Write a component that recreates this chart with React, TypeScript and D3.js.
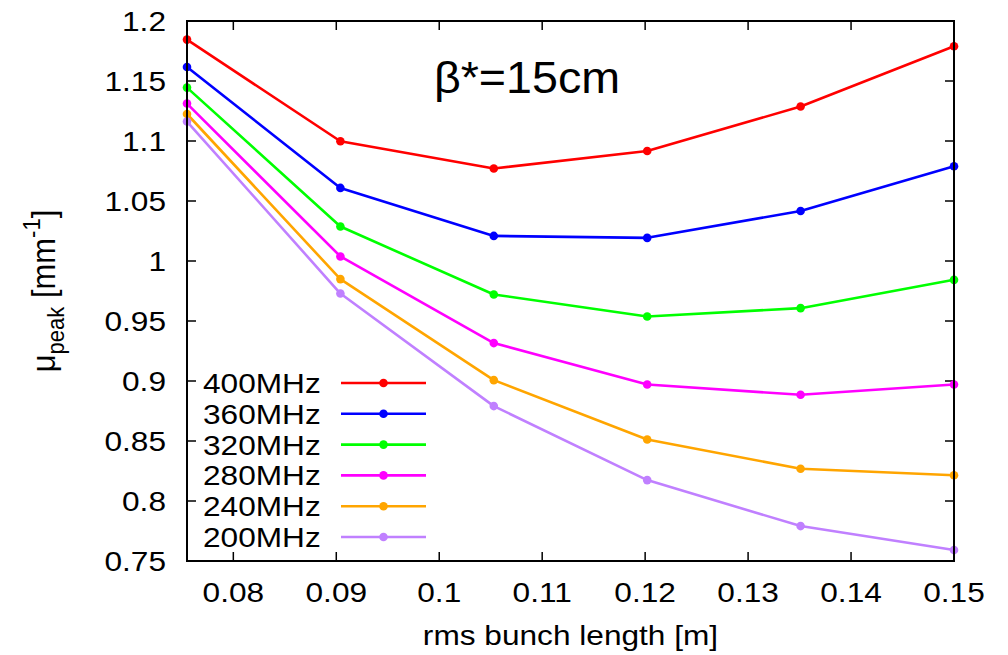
import React from "react";
import * as d3 from "d3";

const xValues = [0.0755, 0.0904, 0.1053, 0.1202, 0.1351, 0.15];
const seriesNames = ["400MHz", "360MHz", "320MHz", "280MHz", "240MHz", "200MHz"];
const seriesColors = ["#ff0000", "#0000ff", "#00ff00", "#ff00ff", "#ffa500", "#c080ff"];
const mhz400 = [1.1845, 1.0998, 1.0771, 1.0917, 1.1287, 1.179];
const mhz360 = [1.1617, 1.0609, 1.0209, 1.0193, 1.0417, 1.079];
const mhz320 = [1.1445, 1.0287, 0.9721, 0.9538, 0.9607, 0.9843];
const mhz280 = [1.1312, 1.0038, 0.9316, 0.8971, 0.8885, 0.8971];
const mhz240 = [1.1225, 0.9849, 0.9007, 0.8513, 0.8269, 0.8214];
const mhz200 = [1.1162, 0.9729, 0.8791, 0.8174, 0.7791, 0.7591];
const seriesValues = [mhz400, mhz360, mhz320, mhz280, mhz240, mhz200];
const xTicks = [0.08, 0.09, 0.1, 0.11, 0.12, 0.13, 0.14, 0.15];
const yTicks = [0.75, 0.8, 0.85, 0.9, 0.95, 1, 1.05, 1.1, 1.15, 1.2];

const W = 1008;
const H = 655;
const M = { left: 187, right: 954, top: 21, bottom: 561 };
const SX = 1.13;
const FONT = "'Liberation Sans', Arial, Helvetica, sans-serif";

function T({ x, y, anchor = "start", size = 28, children, sx = SX }: any) {
  return (
    <text
      transform={`translate(${x},${y}) scale(${sx},1)`}
      textAnchor={anchor}
      fontSize={size}
      fontFamily={FONT}
      fill="#000"
    >
      {children}
    </text>
  );
}

export default function App() {
  const x = d3.scaleLinear().domain([0.0755, 0.15]).range([M.left, M.right]);
  const y = d3.scaleLinear().domain([0.75, 1.2]).range([M.bottom, M.top]);
  const line = d3
    .line<number>()
    .x((_, i) => x(xValues[i]))
    .y((d) => y(d));
  const tickLen = 9;
  const legendX1 = 341;
  const legendX2 = 426;
  const legendY0 = 383;
  const legendDy = 30.8;

  return (
    <svg
      width={W}
      height={H}
      style={{ position: "absolute", left: 0, top: 0, background: "#fff" }}
    >
      <rect x={0} y={0} width={W} height={H} fill="#fff" />
      {/* ticks */}
      {xTicks.map((t) => (
        <g key={"xt" + t}>
          <line x1={x(t)} x2={x(t)} y1={M.bottom} y2={M.bottom - tickLen} stroke="#000" strokeWidth={1.5} />
          <line x1={x(t)} x2={x(t)} y1={M.top} y2={M.top + tickLen} stroke="#000" strokeWidth={1.5} />
          <T x={x(t)} y={602} anchor="middle">{String(+t.toFixed(2))}</T>
        </g>
      ))}
      {yTicks.map((t) => (
        <g key={"yt" + t}>
          <line x1={M.left} x2={M.left + tickLen} y1={y(t)} y2={y(t)} stroke="#000" strokeWidth={1.5} />
          <line x1={M.right} x2={M.right - tickLen} y1={y(t)} y2={y(t)} stroke="#000" strokeWidth={1.5} />
          <T x={166} y={y(t) + 10} anchor="end">{String(+t.toFixed(2))}</T>
        </g>
      ))}
      {/* series */}
      {seriesValues.map((vals, si) => (
        <g key={"s" + si}>
          <path d={line(vals) || ""} fill="none" stroke={seriesColors[si]} strokeWidth={2.6} strokeLinejoin="round" />
          {vals.map((v, i) => (
            <circle key={i} cx={x(xValues[i])} cy={y(v)} r={4.3} fill={seriesColors[si]} />
          ))}
        </g>
      ))}
      {/* frame */}
      <rect
        x={M.left}
        y={M.top}
        width={M.right - M.left}
        height={M.bottom - M.top}
        fill="none"
        stroke="#000"
        strokeWidth={2}
      />
      {/* legend */}
      {seriesNames.map((name, i) => {
        const ly = legendY0 + i * legendDy;
        return (
          <g key={"lg" + i}>
            <T x={203} y={ly + 10}>{name}</T>
            <line x1={legendX1} x2={legendX2} y1={ly} y2={ly} stroke={seriesColors[i]} strokeWidth={2.6} />
            <circle cx={(legendX1 + legendX2) / 2} cy={ly} r={4.3} fill={seriesColors[i]} />
          </g>
        );
      })}
      {/* title */}
      <T x={527} y={93} anchor="middle" size={44} sx={1.06}>β*=15cm</T>
      {/* x label */}
      <T x={(M.left + M.right) / 2} y={645} anchor="middle">rms bunch length [m]</T>
      {/* y label */}
      <g transform={`translate(55,${(M.top + M.bottom) / 2}) rotate(-90)`}>
        <text textAnchor="middle" fontSize={31} fontFamily={FONT} fill="#000" transform="scale(1,1.08)">
          μ
          <tspan fontSize={22} dy={8}>peak</tspan>
          <tspan dy={-8}> [mm</tspan>
          <tspan fontSize={22} dy={-14}>-1</tspan>
          <tspan dy={14}>]</tspan>
        </text>
      </g>
    </svg>
  );
}
